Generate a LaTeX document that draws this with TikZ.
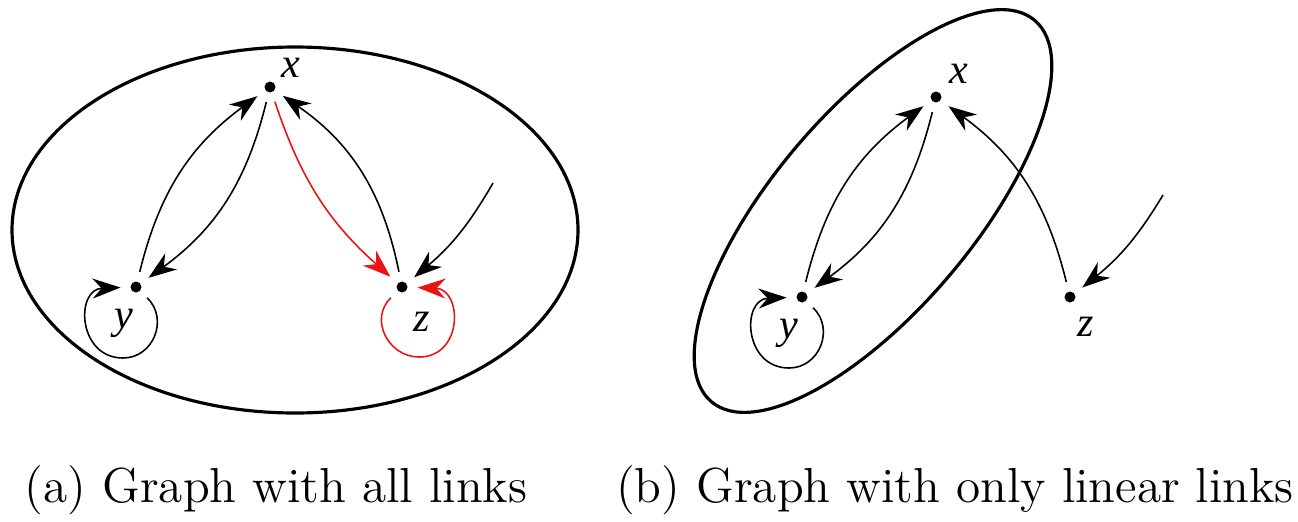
\documentclass[tikz,border=0pt]{standalone}
\usepackage{fontspec}
\newfontfamily\fuenteNodo{Liberation Serif}
\usetikzlibrary{
    arrows.meta,
    positioning,
    calc
}
\definecolor{rojoEnlace}{RGB}{235, 20, 20}
\tikzset{
    punto/.style={
        circle, fill=black, inner sep=0pt,
        minimum size=1.1mm, outer sep=1mm
    },
    etiqueta/.style={
        font=\fontsize{12}{14}\selectfont\fuenteNodo\itshape,
        inner sep=0pt
    },
    contorno/.style={
        line width=0.9pt, draw=black
    },
    flechaNegra/.style={
        -{Stealth[length=2.8mm,width=2mm]},
        line width=0.45pt, color=black
    },
    flechaRoja/.style={
        -{Stealth[length=2.8mm,width=2mm]},
        line width=0.45pt, color=rojoEnlace
    },
    titulo/.style={
        font=\fontsize{14}{17}\selectfont, inner sep=0pt
    },
}

\begin{document}
\begin{tikzpicture}[x=0.1mm, y=0.1mm]

    \useasboundingbox (0,0) rectangle (1298,521);

    % ----------------------------------------------------------
    % (a) GRAFO CON TODOS LOS ENLACES
    % ----------------------------------------------------------
    \draw[contorno] (295,291) ellipse [x radius=28.3mm, y radius=18.3mm];

    \node[punto]    at (270,434) (xa)  {};
    \node[punto]    at (136,234) (ya)  {};
    \node[punto]    at (402,234) (za)  {};
    \node[etiqueta] at (291,453) (lxa) {x};
    \node[etiqueta] at (124,198) (lya) {y};
    \node[etiqueta] at (422,199) (lza) {z};
    \coordinate (entradaA) at (493,338);
    \coordinate (bajoYa)   at (123,163);
    \coordinate (bajoZa)   at (419,164);

    \draw[flechaNegra] (ya) to[bend left=20]  (xa);
    \draw[flechaNegra] (xa) to[bend left=20]  (ya);
    \draw[flechaRoja]  (xa) to[bend right=15] (za);
    \draw[flechaNegra] (za) to[bend right=22] (xa);
    \draw[flechaNegra] (entradaA) to[bend left=10] (za);

    % lazos (pasan por el punto mas bajo del circulo)
    \draw[flechaNegra]
        (ya) to[out=-44, in=0, looseness=1.2] (bajoYa)
             to[out=180, in=182, looseness=1.65] (ya);
    \draw[flechaRoja]
        (za) to[out=-136, in=180, looseness=1.2] (bajoZa)
             to[out=0, in=-2, looseness=1.65] (za);

    \node[titulo] at (276,31) (capA) {(a) Graph with all links};

    % ----------------------------------------------------------
    % (b) GRAFO CON SOLO ENLACES LINEALES
    % ----------------------------------------------------------
    \draw[contorno, rotate around={49.7:(873,310)}]
        (873,310) ellipse [x radius=25mm, y radius=10mm];

    \node[punto]    at (936,424)  (xb)  {};
    \node[punto]    at (802,224)  (yb)  {};
    \node[punto]    at (1070,224) (zb)  {};
    \node[etiqueta] at (959,447)  (lxb) {x};
    \node[etiqueta] at (789,188)  (lyb) {y};
    \node[etiqueta] at (1086,194) (lzb) {z};
    \coordinate (entradaB) at (1163,326);
    \coordinate (bajoYb)   at (789,153);

    \draw[flechaNegra] (yb) to[bend left=20]  (xb);
    \draw[flechaNegra] (xb) to[bend left=20]  (yb);
    \draw[flechaNegra] (zb) to[bend right=20] (xb);
    \draw[flechaNegra] (entradaB) to[bend left=10] (zb);

    % lazo
    \draw[flechaNegra]
        (yb) to[out=-44, in=0, looseness=1.2] (bajoYb)
             to[out=180, in=182, looseness=1.65] (yb);

    \node[titulo] at (955,31) (capB) {(b) Graph with only linear links};

\end{tikzpicture}
\end{document}
